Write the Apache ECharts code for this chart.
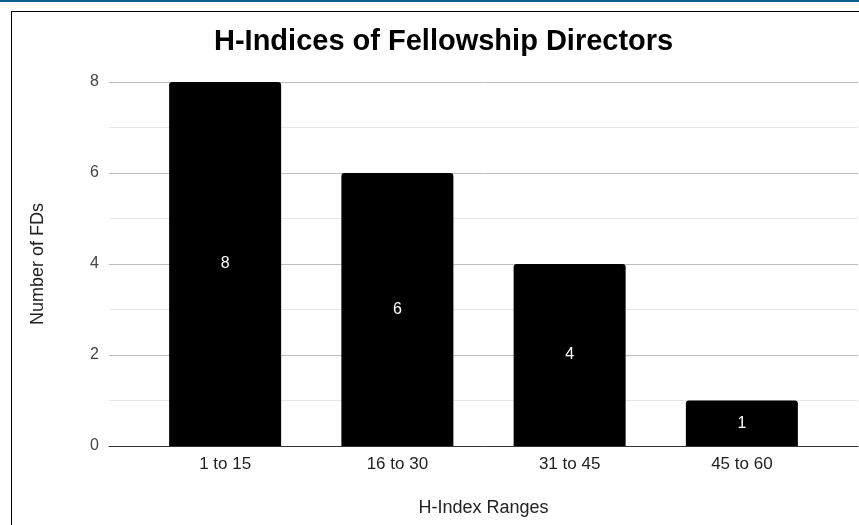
<!DOCTYPE html>
<html lang="en">
<head>
    <meta charset="UTF-8">
    <title>H-Indices of Fellowship Directors</title>
    <script src="https://cdn.jsdelivr.net/npm/echarts@6/dist/echarts.min.js"></script>
    <style>
        body { margin: 0; background: #fff; }
        #wrap { position: relative; width: 859px; height: 525px; overflow: hidden; }
        #topline { position: absolute; left: 0; top: 0; width: 859px; height: 2px; background: #0b5c8a; }
        #frame { position: absolute; left: 11px; top: 11px; width: 900px; height: 600px; border-left: 1.5px solid #000; border-top: 1.5px solid #000; }
        #main { position: absolute; left: 0; top: 0; width: 859px; height: 525px; }
    </style>
</head>
<body>
<div id="wrap">
    <div id="topline"></div>
    <div id="frame"></div>
    <div id="main"></div>
</div>
<script type="text/javascript">
    // data
    var categories = ['1 to 15', '16 to 30', '31 to 45', '45 to 60'];
    var counts = [8, 6, 4, 1];
    var yTicks = [0, 2, 4, 6, 8];

    var font = 'Arial, "Liberation Sans", sans-serif';
    var myChart = echarts.init(document.getElementById('main'));

    var option = {
        animation: false,
        textStyle: { fontFamily: font },
        title: {
            text: 'H-Indices of Fellowship Directors',
            left: 209,
            top: 22,
            textStyle: { fontSize: 29, fontWeight: 'bold', color: '#000', fontFamily: font }
        },
        grid: [
            // full-width grid: gridlines, y labels, baseline and x title
            { left: 109, right: 1, top: 82, bottom: 79 },
            // inner grid for the bars
            { left: 139, right: 31, top: 82, bottom: 79 }
        ],
        xAxis: [
            {
                type: 'value', gridIndex: 0, min: 0, max: 1,
                axisLabel: { show: false }, axisTick: { show: false }, splitLine: { show: false },
                axisLine: { show: true, lineStyle: { color: '#333', width: 1 } },
                name: 'H-Index Ranges', nameLocation: 'middle', nameGap: 53,
                nameTextStyle: { fontSize: 18, color: '#222', fontFamily: font }
            },
            {
                type: 'category', gridIndex: 1, data: categories,
                axisLine: { show: false }, axisTick: { show: false },
                axisLabel: { margin: 10, fontSize: 17, color: '#222', fontFamily: font }
            }
        ],
        yAxis: [
            {
                type: 'value', gridIndex: 0, min: 0, max: 8, interval: 2,
                axisLine: { show: false }, axisTick: { show: false },
                axisLabel: {
                    margin: 10, fontSize: 16, color: '#444', fontFamily: font,
                    formatter: function (v) { return yTicks.indexOf(v) >= 0 ? v : ''; }
                },
                splitLine: { show: true, lineStyle: { color: '#bdbdbd', width: 1 } },
                minorTick: { show: false, splitNumber: 2 },
                minorSplitLine: { show: true, lineStyle: { color: '#e6e6e6', width: 1 } },
                name: 'Number of FDs', nameLocation: 'middle', nameGap: 62,
                nameTextStyle: { fontSize: 18, color: '#222', fontFamily: font }
            },
            {
                type: 'value', gridIndex: 1, min: 0, max: 8, show: false
            }
        ],
        series: [
            {
                type: 'bar',
                xAxisIndex: 1, yAxisIndex: 1,
                data: counts,
                barWidth: 112,
                itemStyle: { color: '#000', borderRadius: [3, 3, 0, 0] },
                label: { show: true, position: 'inside', color: '#fff', fontSize: 16, fontFamily: font }
            }
        ]
    };

    myChart.setOption(option);
</script>
</body>
</html>
